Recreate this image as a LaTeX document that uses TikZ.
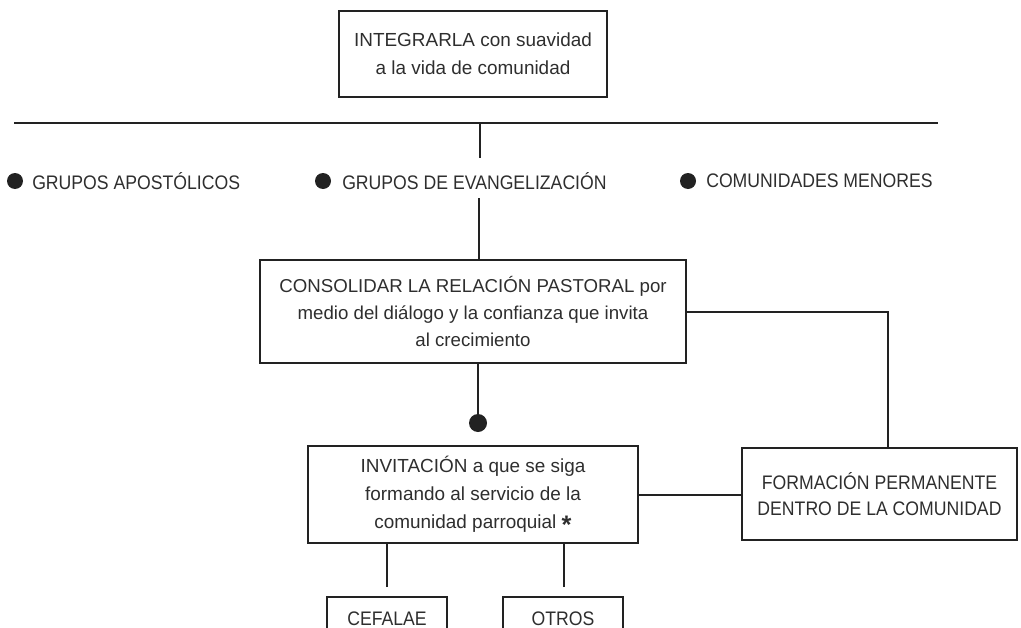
\documentclass[tikz,border=0pt]{standalone}
\usepackage{fontspec}
\setmainfont{Liberation Sans}
\newfontfamily\narrowfont[FakeStretch=0.9]{Liberation Sans}
\definecolor{ink}{HTML}{222222}
\definecolor{txt}{HTML}{2E2E2E}
\tikzset{
  box/.style={draw=ink, line width=1.5pt, rectangle, inner sep=0pt, align=center,
    text=txt, font=\fontsize{14.2}{21}\selectfont},
  lbl/.style={anchor=west, inner sep=0pt, text=txt, font=\narrowfont\fontsize{14.7}{16}\selectfont},
  bullet/.style={circle, fill=ink, inner sep=0pt, minimum size=12pt},
  conn/.style={draw=ink, line width=1.5pt},
}
\begin{document}
\begin{tikzpicture}[x=0.75pt, y=-0.75pt]
\useasboundingbox (0,0) rectangle (1021,628);
% top box
\node[box, minimum width=268*0.75pt, minimum height=86*0.75pt] (top) at (473,54)
  {INTEGRARLA con suavidad\\a la vida de comunidad};
% horizontal line and stub
\coordinate (hl) at (14,123);
\coordinate (hr) at (938,123);
\coordinate (hs) at (480,123);
\coordinate (he) at (480,158);
\draw[conn] (hl) -- (hr);
\draw[conn] (hs) -- (he);
% bullets
\node[bullet] (b1) at (15,181) {};
\node[bullet] (b2) at (323,181) {};
\node[bullet] (b3) at (688,181) {};
\node[lbl] (l1) at (32,181) {GRUPOS APOSTÓLICOS};
\node[lbl] (l2) at (342,181) {GRUPOS DE EVANGELIZACIÓN};
\node[lbl] (l3) at (706,181) {COMUNIDADES MENORES};
% consolidar
\node[box, minimum width=426*0.75pt, minimum height=103*0.75pt, font=\fontsize{14}{20.5}\selectfont] (cons) at (473,311.5)
  {CONSOLIDAR LA RELACIÓN PASTORAL por\\medio del diálogo y la confianza que invita\\al crecimiento};
\coordinate (c1) at (479,198);
\draw[conn] (c1) -- (c1 |- cons.north);
% formacion
\node[box, minimum width=275*0.75pt, minimum height=92*0.75pt, font=\narrowfont\fontsize{14.7}{20}\selectfont] (form) at (879.5,494)
  {FORMACIÓN PERMANENTE\\DENTRO DE LA COMUNIDAD};
\coordinate (fk) at (888,448);
\draw[conn] (cons.east) -| (fk);
% dot
\node[bullet, minimum size=13.5pt] (dot) at (478,423) {};
\draw[conn] (dot.center |- cons.south) -- (dot.center);
% invitacion
\node[box, minimum width=330*0.75pt, minimum height=97*0.75pt] (inv) at (473,494.5)
  {INVITACIÓN a que se siga\\formando al servicio de la\\comunidad parroquial {\fontsize{19}{19}\selectfont\bfseries\raisebox{-3.5pt}{*}}};
\draw[conn] (inv.east) -- (inv.east -| form.west);
% bottom boxes
\node[box, minimum width=120*0.75pt, minimum height=44*0.75pt, font=\narrowfont\fontsize{14.7}{16}\selectfont] (cef) at (387,619) {CEFALAE};
\node[box, minimum width=120*0.75pt, minimum height=44*0.75pt, font=\narrowfont\fontsize{14.7}{16}\selectfont] (otr) at (563,619) {OTROS};
\coordinate (k1) at (387,587);
\coordinate (k2) at (564,587);
\draw[conn] (k1) -- (k1 |- inv.south);
\draw[conn] (k2) -- (k2 |- inv.south);
\end{tikzpicture}
\end{document}
